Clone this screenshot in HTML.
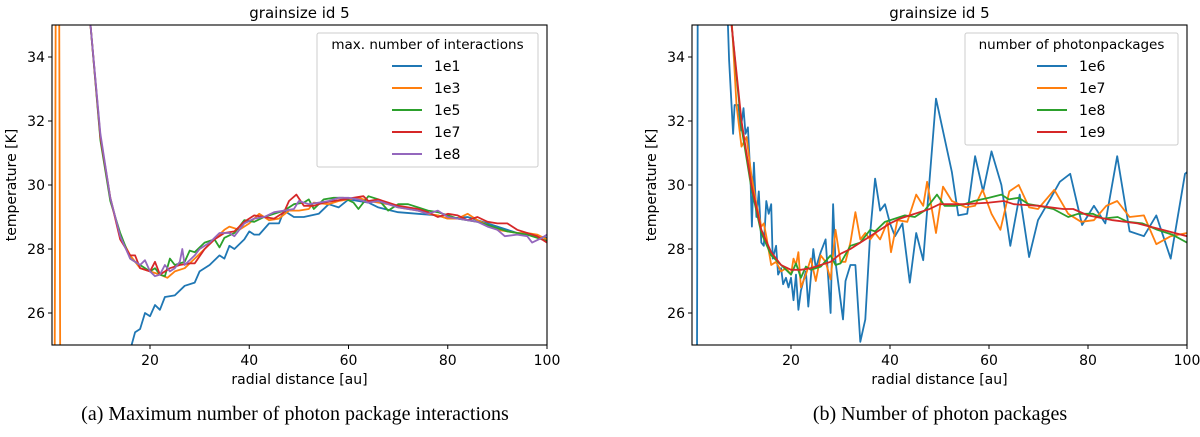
<!DOCTYPE html>
<html><head><meta charset="utf-8"><style>
html,body{margin:0;background:#fff;width:1200px;height:437px;overflow:hidden}
svg{display:block}
svg text{font-family:"DejaVu Sans","Liberation Sans",sans-serif}
.cap{font-family:"Liberation Serif",serif;font-size:20px}
</style></head><body>
<svg id="c" width="1200" height="437">
<text class="cap" x="295" y="420" text-anchor="middle">(a) Maximum number of photon package interactions</text>
<text class="cap" x="940" y="420" text-anchor="middle">(b) Number of photon packages</text>
</svg>
<script>
const xTicks=[20,40,60,80,100];
const yTicks=[26,28,30,32,34];
const legendA=["1e1","1e3","1e5","1e7","1e8"];
const legendB=["1e6","1e7","1e8","1e9"];
const colors=["#1f77b4","#ff7f0e","#2ca02c","#d62728","#9467bd"];
const colorsB=["#1f77b4","#ff7f0e","#2ca02c","#d62728"];
const a1e1=[[16.2,24.5],[16.3,25],[17,25.4],[18,25.5],[19,26.0],[20,25.9],[21,26.25],[22,26.1],[23,26.5],[25,26.55],[27,26.85],[29,26.95],[30,27.3],[32,27.5],[34,27.8],[35,27.7],[36,28.1],[37,28.0],[39,28.3],[40,28.55],[41,28.45],[42,28.45],[44,28.8],[46,28.8],[47,29.2],[49,29.0],[51,29.0],[54,29.1],[56,29.4],[58,29.3],[60,29.55],[62,29.5],[64,29.45],[66,29.3],[70,29.15],[74,29.1],[78,29.05],[80,28.95],[84,29.0],[86,28.9],[90,28.7],[94,28.5],[100,28.35]];
const a1e3=[[0.8,24.5],[1.0,35.5],[1.7,35.5],[1.9,24.5],null,[7.8,35.5],[8,35],[10,31.5],[12,29.6],[14,28.4],[16,27.8],[18,27.4],[20,27.3],[22,27.2],[23.5,27.1],[25,27.3],[27,27.4],[29,27.7],[31,28.0],[33,28.3],[35,28.6],[36,28.7],[38,28.6],[40,28.8],[42,29.1],[44,28.9],[46,28.95],[48,29.2],[50,29.2],[52,29.25],[53,29.45],[56,29.4],[58,29.5],[60,29.55],[62,29.6],[64,29.5],[66,29.45],[68,29.4],[70,29.3],[72,29.25],[74,29.2],[76,29.1],[78,29.05],[80,28.95],[82,28.95],[84,29.1],[86,28.9],[88,28.75],[90,28.6],[92,28.55],[94,28.5],[96,28.5],[98,28.45],[100,28.3]];
const a1e5=[[7.8,35.5],[8,35],[10,31.4],[12,29.5],[14,28.5],[16,27.7],[18,27.5],[20,27.3],[21,27.4],[22,27.2],[23,27.15],[24,27.7],[25,27.5],[27,27.6],[28,27.95],[29,27.9],[31,28.2],[33,28.3],[34,28.05],[35,28.35],[37,28.5],[39,28.9],[41,28.85],[43,29.0],[45,29.1],[47,29.2],[49,29.4],[51,29.45],[52,29.55],[53,29.25],[55,29.55],[57,29.6],[59,29.6],[61,29.45],[62,29.25],[64,29.65],[66,29.55],[68,29.2],[70,29.4],[72,29.4],[74,29.3],[76,29.2],[78,29.15],[80,29.05],[82,28.95],[84,28.9],[86,28.85],[88,28.75],[90,28.65],[92,28.55],[94,28.5],[96,28.45],[98,28.35],[100,28.25]];
const a1e7=[[7.8,35.5],[8,35],[10,31.5],[12,29.6],[14,28.3],[16,27.8],[17,27.8],[18,27.4],[20,27.3],[21,27.6],[22,27.2],[24,27.4],[26,27.5],[28,27.55],[29,27.55],[31,28.0],[33,28.3],[35,28.5],[37,28.55],[39,28.85],[41,29.05],[43,29.0],[45,28.95],[47,29.15],[48,29.5],[49.5,29.7],[51,29.35],[53,29.35],[55,29.45],[57,29.5],[59,29.55],[61,29.6],[63,29.65],[64,29.5],[66,29.55],[68,29.45],[70,29.35],[72,29.3],[74,29.25],[76,29.15],[78,29.0],[80,29.1],[82,29.05],[84,28.9],[86,29.0],[88,28.85],[90,28.8],[92,28.8],[94,28.6],[96,28.5],[98,28.4],[100,28.2]];
const a1e8=[[7.8,35.5],[8,35],[10,31.6],[12,29.6],[14,28.4],[16,27.7],[18,27.5],[19,27.65],[20,27.3],[21,27.15],[22,27.2],[23,27.5],[24,27.3],[25,27.4],[26,27.6],[26.5,28.0],[27,27.5],[29,27.8],[30,28.0],[32,28.2],[34,28.5],[36,28.5],[37,28.4],[39,28.8],[41,28.95],[43,29.0],[45,29.15],[47,29.2],[49,29.25],[50,29.5],[52,29.4],[54,29.45],[56,29.5],[58,29.6],[60,29.6],[62,29.55],[64,29.45],[66,29.5],[68,29.4],[70,29.3],[72,29.25],[74,29.2],[76,29.1],[78,29.2],[80,29.0],[82,28.95],[84,28.9],[86,28.85],[88,28.7],[90,28.6],[91.5,28.4],[94,28.45],[96,28.4],[97,28.2],[99,28.35],[100,28.45]];
const b1e6=[[1.0,24.5],[1.15,35.5],null,[7.1,35.5],[7.2,35.3],[7.5,33.9],[8.3,31.6],[8.6,32.5],[9.4,32.5],[9.8,31.7],[10.4,32.4],[10.8,31.6],[11.3,31.8],[11.8,30.3],[12.1,28.7],[12.5,30.7],[13,29.0],[13.5,29.8],[14,28.2],[14.5,28.1],[15,29.5],[15.5,29.1],[16,29.4],[16.3,27.7],[17,28.1],[17.4,27.2],[18,27.4],[18.4,26.9],[19,27.1],[19.5,26.8],[20,27.1],[20.5,26.4],[21,27.2],[21.5,26.1],[22,26.7],[23,27.3],[23.5,26.2],[24.5,28.0],[25,27.4],[26,27.9],[27,28.3],[28,26.0],[28.5,29.4],[29,27.6],[30.5,25.8],[31,27.0],[32,27.5],[33,27.5],[34,25.1],[35,25.8],[36,28.5],[37,30.2],[38,29.2],[39,29.4],[40,28.8],[41,28.4],[42.5,28.8],[44,26.95],[45.3,28.5],[46.7,27.65],[49.3,32.7],[52.5,30.4],[53.8,29.05],[55.6,29.1],[57.2,30.9],[58.8,29.8],[60.5,31.05],[62.5,30.0],[64.3,28.1],[66.2,29.7],[68.1,27.75],[69.9,28.9],[72.5,29.6],[74.3,30.1],[76.4,30.35],[78.8,28.75],[81.2,29.35],[83.5,28.8],[85.9,30.9],[88.4,28.55],[91.3,28.4],[93.8,29.05],[96.7,27.7],[99.6,30.35],[100,30.4]];
const b1e7=[[7.8,35.5],[8,35.2],[9,32.5],[10,31.2],[11,31.5],[12,30.3],[13,29.4],[14,28.7],[14.5,28.8],[15,28.4],[16,27.5],[17,27.6],[18,27.3],[19,27.4],[20,27.2],[20.5,27.7],[21,27.5],[21.5,27.9],[22,26.8],[23,27.2],[24,27.7],[25,27.0],[26,27.8],[27,27.6],[28,27.05],[29,28.6],[30,27.6],[31,27.6],[32,28.2],[33,29.15],[34,28.3],[35,28.5],[36,28.3],[37,28.5],[38,28.3],[39.5,28.85],[40.2,27.9],[41.5,28.9],[43.5,28.85],[45.3,29.7],[46.7,29.35],[47.5,30.1],[49.3,28.5],[50.7,29.95],[52.5,29.5],[55.4,29.3],[57.2,29.35],[58.7,29.85],[60.5,29.1],[62.3,28.6],[64.1,29.8],[66,30.0],[68.1,29.3],[69.9,29.25],[73.2,29.85],[76,29.1],[78.6,28.85],[81.2,28.9],[83.7,29.35],[85.9,29.5],[88.4,29.0],[91.3,29.05],[93.8,28.15],[96.7,28.4],[100,28.5]];
const b1e8=[[7.8,35.5],[8,35],[10,31.8],[12,29.9],[14,28.5],[16,27.8],[18,27.5],[20,27.2],[21,27.55],[22,27.1],[23,27.45],[24,27.35],[26,27.45],[28,27.8],[29,27.5],[30,27.55],[32,28.1],[34,28.2],[36,28.6],[37,28.55],[39,28.85],[41,28.95],[43,29.05],[45,29.0],[47,29.2],[49.5,29.7],[51,29.35],[53,29.35],[55,29.4],[57,29.5],[60,29.6],[62.5,29.7],[64,29.55],[66,29.6],[68,29.4],[70,29.35],[73,29.25],[76,29.0],[78,29.1],[81,29.1],[83,28.95],[86,29.0],[88,28.85],[91,28.8],[94,28.6],[97,28.45],[100,28.2]];
const b1e9=[[7.8,35.5],[8,35],[10,32],[12,30],[14,28.6],[16,27.9],[18,27.5],[20,27.35],[22,27.35],[24,27.4],[26,27.5],[28,27.6],[30,27.85],[32,28.0],[34,28.2],[36,28.4],[38,28.6],[40,28.8],[42,28.95],[44,29.05],[46,29.15],[48,29.25],[50,29.4],[55,29.4],[60,29.45],[63,29.5],[65,29.4],[70,29.35],[75,29.25],[77,29.25],[80,29.05],[85,28.9],[90,28.8],[95,28.6],[100,28.4]];

const NS="http://www.w3.org/2000/svg";
const svg=document.getElementById('c');
function mk(tag,attrs,parent){const e=document.createElementNS(NS,tag);for(const k in attrs)e.setAttribute(k,attrs[k]);(parent||svg).appendChild(e);return e;}

function panel(id,L,R,T,B,xmin,series,cols,names,legTitle,leg){
  const g=mk('g',{});
  
  
  const sx=v=>L+(v-xmin)/(100-xmin)*(R-L);
  const sy=v=>B-(v-25)/10*(B-T);
  const cp=mk('clipPath',{id:'clip'+id},g);
  mk('rect',{x:L,y:T,width:R-L,height:B-T},cp);
  const sg=mk('g',{'clip-path':'url(#clip'+id+')'},g);
  series.forEach((s,i)=>{
    let d='',move=true;
    s.forEach(pt=>{
      if(pt===null){move=true;return;}
      d+=(move?'M':'L')+sx(pt[0]).toFixed(1)+','+sy(pt[1]).toFixed(1);
      move=false;
    });
    const p=mk('path',{d:d,fill:'none',stroke:cols[i],'stroke-width':1.8,'stroke-linejoin':'round'},sg);
    
    
  });
  xTicks.forEach(t=>{
    mk('line',{x1:sx(t),x2:sx(t),y1:B,y2:B+4,stroke:'#000','stroke-width':1},g);
    const tx=mk('text',{x:sx(t),y:B+20,'text-anchor':'middle','font-size':14},g);tx.textContent=t;
    
    
  });
  yTicks.forEach(t=>{
    mk('line',{x1:L-4,x2:L,y1:sy(t),y2:sy(t),stroke:'#000','stroke-width':1},g);
    const tx=mk('text',{x:L-7,y:sy(t)+5,'text-anchor':'end','font-size':14},g);tx.textContent=t;
    
    
  });
  mk('rect',{x:L,y:T,width:R-L,height:B-T,fill:'none',stroke:'#000','stroke-width':1.1},g);
  const ti=mk('text',{x:(L+R)/2,y:T-7,'text-anchor':'middle','font-size':15},g);ti.textContent='grainsize id 5';
  
  
  const xl=mk('text',{x:(L+R)/2,y:B+39,'text-anchor':'middle','font-size':14},g);xl.textContent='radial distance [au]';
  
  
  const yl=mk('text',{x:0,y:0,'text-anchor':'middle','font-size':14,transform:'translate('+(L-36)+','+((T+B)/2)+') rotate(-90)'},g);yl.textContent='temperature [K]';
  
  
  const lg=mk('g',{},g);
  
  
  mk('rect',{x:leg.x,y:leg.y,width:leg.w,height:leg.h,fill:'#fff','fill-opacity':0.8,stroke:'#ccc','stroke-width':1,rx:2},lg);
  const lt=mk('text',{x:leg.x+leg.w/2,y:leg.y+16,'text-anchor':'middle','font-size':13.5},lg);lt.textContent=legTitle;
  names.forEach((n,i)=>{
    const y=leg.y+33+i*22;
    mk('line',{x1:leg.lx,x2:leg.lx+30,y1:y,y2:y,stroke:cols[i],'stroke-width':2},lg);
    const t=mk('text',{x:leg.lx+42,y:y+5,'font-size':14},lg);t.textContent=n;
    
    
  });
}
panel('a',52,547,25,345,0.25,[a1e1,a1e3,a1e5,a1e7,a1e8],colors,legendA,'max. number of interactions',{x:317,y:33,w:221,h:134,lx:392});
panel('b',692,1187,25,345,0,[b1e6,b1e7,b1e8,b1e9],colorsB,legendB,'number of photonpackages',{x:965,y:33,w:213,h:112,lx:1037});
</script>
</body></html>
